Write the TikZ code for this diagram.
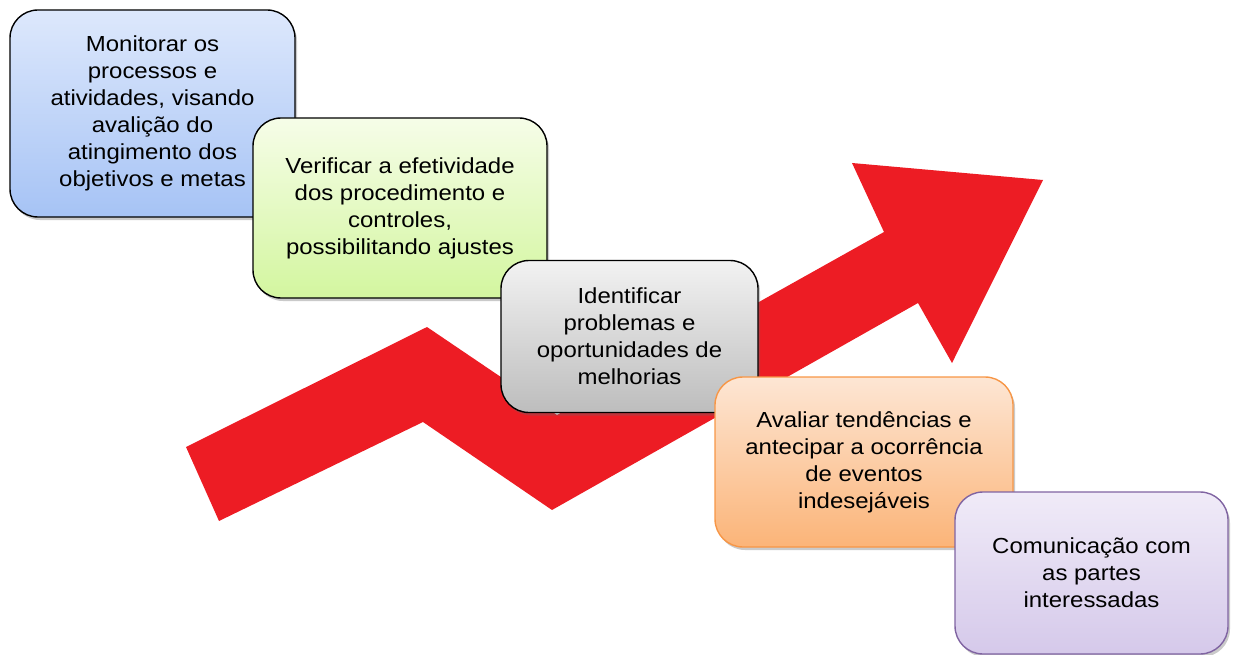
\documentclass[tikz,border=0pt]{standalone}
\usepackage{fontspec}
\setmainfont{Liberation Sans}[FakeStretch=1.1]
\usetikzlibrary{shadows}
\definecolor{arrowred}{HTML}{ED1C24}
\definecolor{blueT}{HTML}{DDE8FC}\definecolor{blueB}{HTML}{A6C3F5}
\definecolor{greenT}{HTML}{F6FDE8}\definecolor{greenB}{HTML}{D3F69F}
\definecolor{grayT}{HTML}{F2F2F2}\definecolor{grayB}{HTML}{BDBDBD}
\definecolor{orangeT}{HTML}{FDE6D4}\definecolor{orangeB}{HTML}{FBB478}
\definecolor{orangeL}{HTML}{F79646}
\definecolor{purpleT}{HTML}{F0EBF8}\definecolor{purpleB}{HTML}{D5C9EA}
\definecolor{purpleL}{HTML}{8064A2}
\tikzset{
  card/.style={rounded corners=28pt, line width=1.4pt, align=center,
    font=\fontsize{21.8}{27}\selectfont, inner sep=0pt,
    drop shadow={shadow xshift=2pt, shadow yshift=-3pt, opacity=0.35, fill=black!60}},
  bluebox/.style={card, draw=black, top color=blueT, bottom color=blueB},
  greenbox/.style={card, draw=black, top color=greenT, bottom color=greenB},
  graybox/.style={card, draw=black, top color=grayT, bottom color=grayB},
  orangebox/.style={card, draw=orangeL, top color=orangeT, bottom color=orangeB},
  purplebox/.style={card, draw=purpleL, top color=purpleT, bottom color=purpleB},
}
\begin{document}
\begin{tikzpicture}[x=1pt,y=-1pt]
\useasboundingbox (0,0) rectangle (1236,655);
% red arrow
\coordinate (tA) at (186,447);
\coordinate (tB) at (427,327);
\coordinate (tC) at (557,415);
\coordinate (tD) at (884,232);
\coordinate (tE) at (852,163);
\coordinate (tF) at (1043,180);
\coordinate (tG) at (952,363);
\coordinate (tH) at (918,303);
\coordinate (tI) at (552,510);
\coordinate (tJ) at (423,422);
\coordinate (tK) at (219,521);
\fill[arrowred] (tA) -- (tB) -- (tC) -- (tD) -- (tE) -- (tF) -- (tG) -- (tH) -- (tI) -- (tJ) -- (tK) -- cycle;
% boxes
\node[bluebox, minimum width=285pt, minimum height=207pt] (b1) at (152.5,113.5)
  {Monitorar os\\processos e\\atividades, visando\\avalição do\\atingimento dos\\objetivos e metas};
\node[greenbox, minimum width=294pt, minimum height=180pt] (b2) at (400,208)
  {Verificar a efetividade\\dos procedimento e\\controles,\\possibilitando ajustes};
\node[graybox, minimum width=257pt, minimum height=152pt] (b3) at (629.5,336.5)
  {Identificar\\problemas e\\oportunidades de\\melhorias};
\node[orangebox, minimum width=298pt, minimum height=170pt] (b4) at (864,462)
  {Avaliar tendências e\\antecipar a ocorrência\\de eventos\\indesejáveis};
\node[purplebox, minimum width=273pt, minimum height=162pt] (b5) at (1091.5,573)
  {Comunicação com\\as partes\\interessadas};
\end{tikzpicture}
\end{document}
